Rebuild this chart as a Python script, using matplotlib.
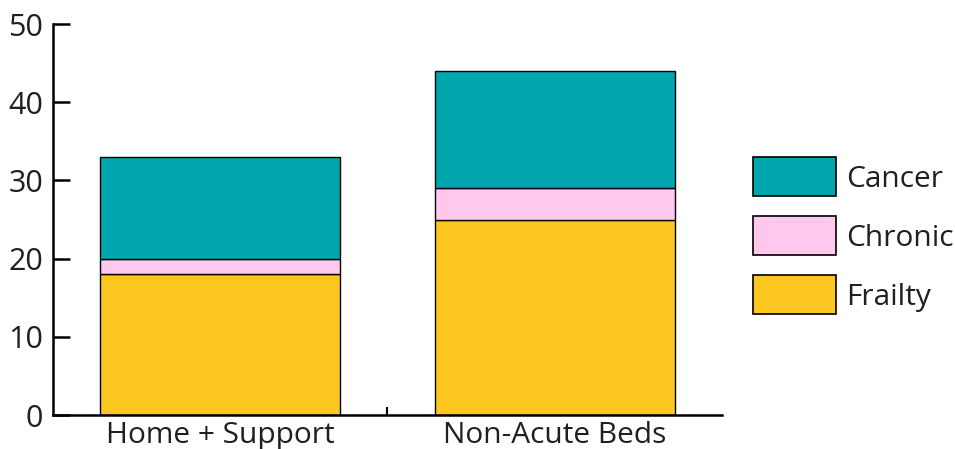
import matplotlib
matplotlib.use("Agg")
import matplotlib.pyplot as plt
from matplotlib.patches import Rectangle
import numpy as np

categories = ["Home + Support", "Non-Acute Beds"]
frailty = [18, 25]
chronic = [2, 4]
cancer = [13, 15]

COLORS = {"Cancer": "#00A6AE", "Chronic": "#FFC8EC", "Frailty": "#FDC721"}
TEXT = "#231F20"

plt.rcParams["font.family"] = ["Open Sans", "DejaVu Sans"]

fig = plt.figure(figsize=(9.55, 4.49), dpi=100)
ax = fig.add_axes([0.0555, 0.0757, 0.7005, 0.8708])

x = np.arange(len(categories)) + 0.5
w = 0.717
bottom2 = np.array(frailty) + np.array(chronic)
ax.bar(x, frailty, w, color=COLORS["Frailty"], edgecolor="black", linewidth=1)
ax.bar(x, chronic, w, bottom=frailty, color=COLORS["Chronic"], edgecolor="black", linewidth=1)
ax.bar(x, cancer, w, bottom=bottom2, color=COLORS["Cancer"], edgecolor="black", linewidth=1)

ax.set_xlim(0, 2)
ax.set_ylim(0, 50)
ax.set_yticks(range(0, 51, 10))
ax.set_xticks(x)
ax.set_xticklabels(categories)
ax.set_xticks([1], minor=True)

for s in ["top", "right"]:
    ax.spines[s].set_visible(False)
for s in ["left", "bottom"]:
    ax.spines[s].set_linewidth(1.8)
    ax.spines[s].set_color("black")

ax.tick_params(axis="y", direction="in", length=12, width=1.8, labelsize=22, colors="black", labelcolor=TEXT, pad=7)
ax.tick_params(axis="x", which="major", length=0, labelsize=21.5, labelcolor=TEXT, pad=4)
ax.tick_params(axis="x", which="minor", direction="in", length=6, width=1.5, colors="black")

# hand-drawn legend to match the box sizes of the original
legend_items = [("Cancer", 0.5635), ("Chronic", 0.4321), ("Frailty", 0.3007)]
lx, lw, lh = 0.7885, 0.0869, 0.0869
for name, y0 in legend_items:
    fig.patches.append(Rectangle((lx, y0), lw, lh, transform=fig.transFigure,
                                 facecolor=COLORS[name], edgecolor="black", linewidth=1.2))
    fig.text(0.886, y0 + lh / 2 - 0.006, name, fontsize=21.5, color=TEXT, va="center", ha="left")

fig.savefig("out.png", dpi=100)
